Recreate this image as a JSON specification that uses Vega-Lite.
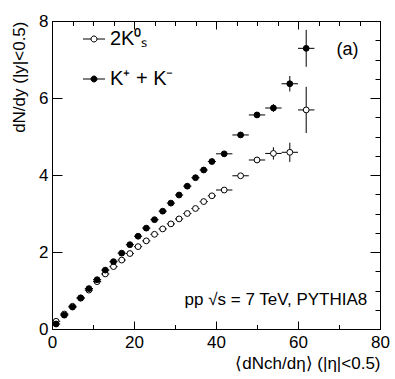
{
  "$schema": "https://vega.github.io/schema/vega-lite/v6.json",
  "width": 328,
  "height": 308,
  "autosize": "none",
  "padding": {"left": 52, "top": 21, "right": 15, "bottom": 50},
  "background": "white",
  "config": {
    "font": "Liberation Sans",
    "view": {"stroke": "black", "strokeWidth": 1},
    "axis": {
      "grid": false,
      "domainColor": "black",
      "tickColor": "black",
      "labelColor": "black",
      "titleColor": "black",
      "labelFont": "Liberation Sans",
      "titleFont": "Liberation Sans",
      "labelFontSize": 17,
      "titleFontSize": 17,
      "titleFontWeight": "normal",
      "labelFlush": false,
      "labelOverlap": false
    }
  },
  "datasets": {
    "pts": [
      {"series": "2K⁰ₛ", "x": 1, "y": 0.20, "ex": 1, "ey": 0.01},
      {"series": "2K⁰ₛ", "x": 3, "y": 0.39, "ex": 1, "ey": 0.01},
      {"series": "2K⁰ₛ", "x": 5, "y": 0.59, "ex": 1, "ey": 0.01},
      {"series": "2K⁰ₛ", "x": 7, "y": 0.80, "ex": 1, "ey": 0.01},
      {"series": "2K⁰ₛ", "x": 9, "y": 1.01, "ex": 1, "ey": 0.01},
      {"series": "2K⁰ₛ", "x": 11, "y": 1.23, "ex": 1, "ey": 0.01},
      {"series": "2K⁰ₛ", "x": 13, "y": 1.43, "ex": 1, "ey": 0.01},
      {"series": "2K⁰ₛ", "x": 15, "y": 1.62, "ex": 1, "ey": 0.01},
      {"series": "2K⁰ₛ", "x": 17, "y": 1.79, "ex": 1, "ey": 0.01},
      {"series": "2K⁰ₛ", "x": 19, "y": 1.96, "ex": 1, "ey": 0.01},
      {"series": "2K⁰ₛ", "x": 21, "y": 2.14, "ex": 1, "ey": 0.01},
      {"series": "2K⁰ₛ", "x": 23, "y": 2.29, "ex": 1, "ey": 0.01},
      {"series": "2K⁰ₛ", "x": 25, "y": 2.46, "ex": 1, "ey": 0.01},
      {"series": "2K⁰ₛ", "x": 27, "y": 2.60, "ex": 1, "ey": 0.01},
      {"series": "2K⁰ₛ", "x": 29, "y": 2.73, "ex": 1, "ey": 0.01},
      {"series": "2K⁰ₛ", "x": 31, "y": 2.86, "ex": 1, "ey": 0.01},
      {"series": "2K⁰ₛ", "x": 33, "y": 3.00, "ex": 1, "ey": 0.01},
      {"series": "2K⁰ₛ", "x": 35, "y": 3.13, "ex": 1, "ey": 0.01},
      {"series": "2K⁰ₛ", "x": 37, "y": 3.31, "ex": 1, "ey": 0.01},
      {"series": "2K⁰ₛ", "x": 39, "y": 3.46, "ex": 1, "ey": 0.01},
      {"series": "2K⁰ₛ", "x": 42, "y": 3.61, "ex": 2, "ey": 0.03},
      {"series": "2K⁰ₛ", "x": 46, "y": 3.98, "ex": 2, "ey": 0.05},
      {"series": "2K⁰ₛ", "x": 50, "y": 4.39, "ex": 2, "ey": 0.08},
      {"series": "2K⁰ₛ", "x": 54, "y": 4.56, "ex": 2, "ey": 0.16},
      {"series": "2K⁰ₛ", "x": 58, "y": 4.59, "ex": 2, "ey": 0.25},
      {"series": "2K⁰ₛ", "x": 62, "y": 5.69, "ex": 2, "ey": 0.6},
      {"series": "K⁺ + K⁻", "x": 1, "y": 0.13, "ex": 1, "ey": 0.01},
      {"series": "K⁺ + K⁻", "x": 3, "y": 0.36, "ex": 1, "ey": 0.01},
      {"series": "K⁺ + K⁻", "x": 5, "y": 0.57, "ex": 1, "ey": 0.01},
      {"series": "K⁺ + K⁻", "x": 7, "y": 0.81, "ex": 1, "ey": 0.01},
      {"series": "K⁺ + K⁻", "x": 9, "y": 1.05, "ex": 1, "ey": 0.01},
      {"series": "K⁺ + K⁻", "x": 11, "y": 1.28, "ex": 1, "ey": 0.01},
      {"series": "K⁺ + K⁻", "x": 13, "y": 1.53, "ex": 1, "ey": 0.01},
      {"series": "K⁺ + K⁻", "x": 15, "y": 1.75, "ex": 1, "ey": 0.01},
      {"series": "K⁺ + K⁻", "x": 17, "y": 1.97, "ex": 1, "ey": 0.01},
      {"series": "K⁺ + K⁻", "x": 19, "y": 2.19, "ex": 1, "ey": 0.01},
      {"series": "K⁺ + K⁻", "x": 21, "y": 2.41, "ex": 1, "ey": 0.01},
      {"series": "K⁺ + K⁻", "x": 23, "y": 2.62, "ex": 1, "ey": 0.01},
      {"series": "K⁺ + K⁻", "x": 25, "y": 2.84, "ex": 1, "ey": 0.01},
      {"series": "K⁺ + K⁻", "x": 27, "y": 3.06, "ex": 1, "ey": 0.01},
      {"series": "K⁺ + K⁻", "x": 29, "y": 3.27, "ex": 1, "ey": 0.01},
      {"series": "K⁺ + K⁻", "x": 31, "y": 3.48, "ex": 1, "ey": 0.01},
      {"series": "K⁺ + K⁻", "x": 33, "y": 3.71, "ex": 1, "ey": 0.01},
      {"series": "K⁺ + K⁻", "x": 35, "y": 3.93, "ex": 1, "ey": 0.01},
      {"series": "K⁺ + K⁻", "x": 37, "y": 4.13, "ex": 1, "ey": 0.01},
      {"series": "K⁺ + K⁻", "x": 39, "y": 4.35, "ex": 1, "ey": 0.01},
      {"series": "K⁺ + K⁻", "x": 42, "y": 4.55, "ex": 2, "ey": 0.03},
      {"series": "K⁺ + K⁻", "x": 46, "y": 5.04, "ex": 2, "ey": 0.04},
      {"series": "K⁺ + K⁻", "x": 50, "y": 5.56, "ex": 2, "ey": 0.06},
      {"series": "K⁺ + K⁻", "x": 54, "y": 5.74, "ex": 2, "ey": 0.1},
      {"series": "K⁺ + K⁻", "x": 58, "y": 6.37, "ex": 2, "ey": 0.2},
      {"series": "K⁺ + K⁻", "x": 62, "y": 7.29, "ex": 2, "ey": 0.48}
    ]
  },
  "data": {"name": "pts"},
  "layer": [
    {
      "layer": [
        {
          "mark": {"type": "errorbar", "color": "black"},
          "encoding": {
            "x": {
              "field": "x", "type": "quantitative",
              "title": "⟨dNch/dη⟩ (|η|<0.5)",
              "scale": {"domain": [0, 80], "nice": false, "zero": false},
              "axis": {
                "orient": "bottom",
                "values": [0,5,10,15,20,25,30,35,40,45,50,55,60,65,70,75,80],
                "labelExpr": "datum.value % 20 === 0 ? datum.label : ''",
                "tickSize": {"condition": {"test": "datum.value % 20 === 0", "value": -8}, "value": -4.5},
                "labelPadding": 13,
                "titleAnchor": "end",
                "titlePadding": 2
              }
            },
            "y": {
              "field": "y", "type": "quantitative",
              "title": "dN/dy (|y|<0.5)",
              "scale": {"domain": [0, 8], "nice": false, "zero": false},
              "axis": {
                "orient": "left",
                "values": [0,0.5,1,1.5,2,2.5,3,3.5,4,4.5,5,5.5,6,6.5,7,7.5,8],
                "labelExpr": "datum.value % 2 === 0 ? datum.label : ''",
                "tickSize": {"condition": {"test": "datum.value % 2 === 0", "value": -10}, "value": -5},
                "labelPadding": 14,
                "titleAnchor": "end",
                "titlePadding": 10
              }
            },
            "yError": {"field": "ey"}
          }
        },
        {
          "mark": {"type": "errorbar", "color": "black"},
          "encoding": {
            "x": {"field": "x", "type": "quantitative", "title": "⟨dNch/dη⟩ (|η|<0.5)"},
            "xError": {"field": "ex"},
            "y": {"field": "y", "type": "quantitative", "title": "dN/dy (|y|<0.5)"}
          }
        },
        {
          "data": {"values": [{"note": "(a)"}]},
          "mark": {"type": "text", "fontSize": 18, "align": "center", "baseline": "middle", "color": "black", "font": "Liberation Sans"},
          "encoding": {
            "x": {"datum": 72.1, "type": "quantitative", "title": "⟨dNch/dη⟩ (|η|<0.5)"},
            "y": {"datum": 7.25, "type": "quantitative", "title": "dN/dy (|y|<0.5)"},
            "text": {"field": "note"}
          }
        },
        {
          "data": {"values": [{"note": "pp √s = 7 TeV, PYTHIA8"}]},
          "mark": {"type": "text", "fontSize": 17, "align": "right", "baseline": "alphabetic", "color": "black", "font": "Liberation Sans"},
          "encoding": {
            "x": {"datum": 76.9, "type": "quantitative", "title": "⟨dNch/dη⟩ (|η|<0.5)"},
            "y": {"datum": 0.62, "type": "quantitative", "title": "dN/dy (|y|<0.5)"},
            "text": {"field": "note"}
          }
        }
      ]
    },
    {
      "mark": {"type": "point", "shape": "circle", "filled": true, "stroke": "black", "strokeWidth": 1, "opacity": 1, "size": 34},
      "encoding": {
        "x": {
          "field": "x", "type": "quantitative",
          "axis": {
            "orient": "top",
            "values": [0,5,10,15,20,25,30,35,40,45,50,55,60,65,70,75,80],
            "labels": false,
            "title": null,
            "tickSize": {"condition": {"test": "datum.value % 20 === 0", "value": -8}, "value": -4.5}
          }
        },
        "y": {
          "field": "y", "type": "quantitative",
          "axis": {
            "orient": "right",
            "values": [0,0.5,1,1.5,2,2.5,3,3.5,4,4.5,5,5.5,6,6.5,7,7.5,8],
            "labels": false,
            "title": null,
            "tickSize": {"condition": {"test": "datum.value % 2 === 0", "value": -10}, "value": -5}
          }
        },
        "fill": {
          "field": "series", "type": "nominal",
          "scale": {"domain": ["2K⁰ₛ", "K⁺ + K⁻"], "range": ["white", "black"]},
          "legend": {
            "orient": "none",
            "legendX": 32,
            "legendY": 8,
            "title": null,
            "symbolType": "M-2.2,0L-0.6,0M0.6,0L2.2,0M0.6,0A0.6,0.6,0,1,1,-0.6,0A0.6,0.6,0,1,1,0.6,0Z",
            "symbolSize": 100,
            "symbolStrokeColor": "black",
            "symbolStrokeWidth": 1,
            "symbolOpacity": 1,
            "labelFontSize": 20,
            "labelFont": "Liberation Sans",
            "labelColor": "black",
            "labelOffset": 6,
            "rowPadding": 20,
            "padding": 0
          }
        }
      }
    }
  ],
  "resolve": {"axis": {"x": "independent", "y": "independent"}}
}
